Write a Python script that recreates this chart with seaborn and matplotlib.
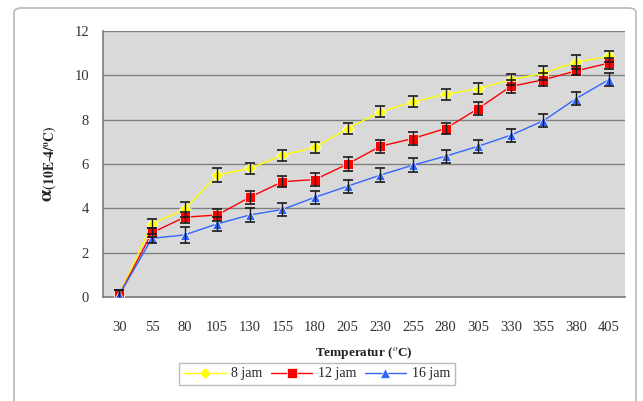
import matplotlib
matplotlib.use("Agg")
import matplotlib.pyplot as plt
import seaborn as sns
import pandas as pd
import numpy as np
from matplotlib.patches import FancyBboxPatch

temps = ["30", "55", "80", "105", "130", "155", "180", "205", "230", "255",
         "280", "305", "330", "355", "380", "405"]
jam8 = [0.1, 3.3, 3.95, 5.5, 5.8, 6.4, 6.75, 7.6, 8.35, 8.8, 9.15, 9.4, 9.8, 10.1, 10.6, 10.85]
jam12 = [0.1, 2.9, 3.6, 3.7, 4.5, 5.2, 5.3, 6.0, 6.8, 7.15, 7.6, 8.5, 9.5, 9.8, 10.2, 10.55]
jam16 = [0.1, 2.65, 2.8, 3.3, 3.7, 3.95, 4.5, 5.0, 5.5, 5.95, 6.35, 6.8, 7.3, 7.95, 8.95, 9.8]
err8 = [0.2, 0.2, 0.35, 0.3, 0.25, 0.25, 0.25, 0.25, 0.25, 0.25, 0.25, 0.25, 0.25, 0.3, 0.3, 0.25]
err12 = [0.2, 0.2, 0.25, 0.25, 0.3, 0.25, 0.3, 0.3, 0.3, 0.3, 0.25, 0.3, 0.3, 0.3, 0.2, 0.25]
err16 = [0.2, 0.2, 0.35, 0.3, 0.3, 0.3, 0.3, 0.3, 0.3, 0.3, 0.3, 0.3, 0.3, 0.3, 0.3, 0.3]
series_names = ["8 jam", "12 jam", "16 jam"]
colors = ["#FFFF00", "#FF0000", "#3366FF"]
markers = ["D", "s", "^"]

sns.set_theme(style="white")
plt.rcParams["font.family"] = ["Liberation Serif", "DejaVu Serif"]
plt.rcParams["mathtext.fontset"] = "stix"

rows = []
for name, vals in zip(series_names, [jam8, jam12, jam16]):
    for i, v in enumerate(vals):
        rows.append({"pos": i, "value": v, "series": name})
df = pd.DataFrame(rows)

fig = plt.figure(figsize=(6.43, 4.01), dpi=100)
# outer chart box
box = FancyBboxPatch((14 / 643, -0.05), 622 / 643, 1 - 8 / 401 + 0.05,
                     boxstyle="round,pad=0,rounding_size=0.012",
                     transform=fig.transFigure, facecolor="white",
                     edgecolor="#B8B8B8", linewidth=1.2, zorder=-10)
fig.patches.append(box)

ax = fig.add_axes([103 / 643, 1 - 297 / 401, (625 - 103) / 643, (297 - 31) / 401])
ax.set_facecolor("#D9D9D9")

sns.lineplot(data=df, x="pos", y="value", hue="series", style="series",
             palette=dict(zip(series_names, colors)),
             markers=dict(zip(series_names, markers)),
             dashes=False, markersize=6.5, linewidth=1.0,
             markeredgewidth=0.5, ax=ax, legend=True, zorder=3)

for vals, errs, c in zip([jam8, jam12, jam16], [err8, err12, err16], colors):
    ax.errorbar(range(len(temps)), vals, yerr=errs, fmt="none",
                ecolor="#1A1A1A", elinewidth=1.0, capsize=3.5, capthick=1.2, zorder=4)

ax.set_xlim(-0.5, len(temps) - 0.5)
ax.set_ylim(0, 12)
ax.set_yticks(range(0, 13, 2))
ax.set_xticks(range(len(temps)))
ax.set_xticklabels(temps)
ax.set_xticks(np.arange(-0.5, len(temps), 1.0), minor=True)
ax.grid(axis="y", color="#7F7F7F", linewidth=1.0)
ax.set_axisbelow(True)
for side in ["top", "right"]:
    ax.spines[side].set_visible(False)
ax.spines["left"].set_color("#7F7F7F")
ax.spines["bottom"].set_color("#7F7F7F")
ax.tick_params(axis="x", which="major", length=0, labelsize=10.5, colors="#333333", pad=17)
ax.tick_params(axis="x", which="minor", length=4, color="#7F7F7F", direction="out")
ax.tick_params(axis="y", length=4, color="#7F7F7F", direction="out", labelsize=10.5,
               colors="#333333", pad=6)

ax.set_xlabel("Temperatur ($^{o}$C)", fontsize=9.5, fontweight="bold", labelpad=8,
              color="#222222")
ax.set_ylabel(r"$\mathbf{\alpha}_{\mathbf{(10E\text{-}4/^{o}C)}}$", fontsize=14,
              labelpad=11, color="#222222")

handles, labels = ax.get_legend_handles_labels()
ax.legend(handles, labels, loc="center", bbox_to_anchor=(317 / 643, 1 - 374 / 401),
          bbox_transform=fig.transFigure, ncol=3, frameon=True, fancybox=False,
          edgecolor="#AAAAAA", fontsize=10, handlelength=3, columnspacing=0.6,
          handletextpad=0.4, borderpad=0.35)

fig.savefig("out.png", dpi=100)
